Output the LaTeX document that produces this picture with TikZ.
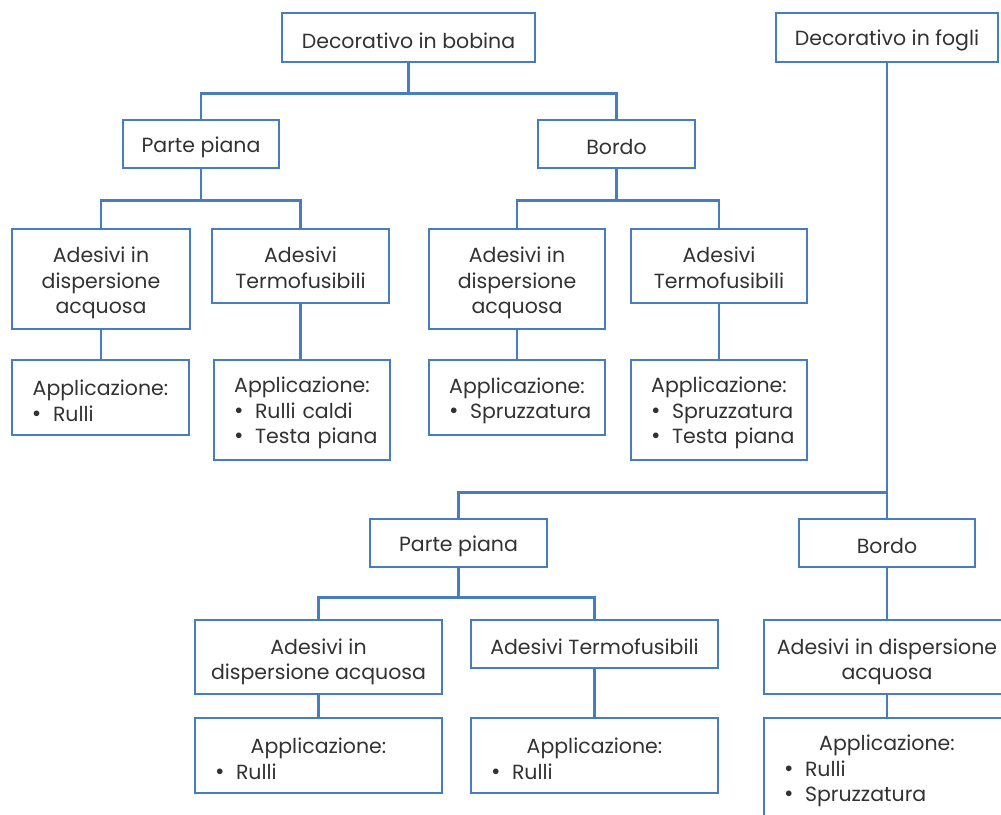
\documentclass[tikz,border=0pt]{standalone}
\usepackage{fontspec}
\setmainfont{Poppins}
\definecolor{ln}{RGB}{70,125,190}
\definecolor{tx}{RGB}{50,50,50}
\newcommand\apphead[1]{\makebox[#1][c]{Applicazione:}}
\newcommand\itm[1]{\hspace*{20pt}\makebox[21pt][l]{\fontsize{23}{25.5}\selectfont\textbullet}#1}
\newcommand\lift[1]{\vrule height #1pt depth 0pt width 0pt\relax}
\begin{document}
\begin{tikzpicture}[x=1pt,y=-1pt,
  mbox/.style={draw=ln, line width=2.9pt, rectangle, inner sep=0pt, align=center, text=tx, font=\fontsize{20.5}{25.5}\selectfont},
  box/.style={mbox, execute at begin node={\lift{22}}},
  appbox/.style={box, align=left},
  conn/.style={draw=ln, line width=2.9pt}]
\useasboundingbox (0,0) rectangle (1001,814);
\clip (0,0) rectangle (1001,814);
% top tree
\node[box, minimum width=253pt, minimum height=49pt] (top1) at (408.5,37.5) {Decorativo in bobina};
\node[box, minimum width=222pt, minimum height=49pt] (top2) at (887,37.5) {Decorativo in fogli};
\node[box, minimum width=156pt, minimum height=48pt] (pp1) at (201,144) {Parte piana};
\node[box, minimum width=157pt, minimum height=48pt] (bo1) at (616.5,144) {Bordo};
\node[mbox, minimum width=178pt, minimum height=100pt] (a1) at (101,279) {\lift{24}Adesivi in\\dispersione\\acquosa};
\node[mbox, minimum width=177pt, minimum height=74pt] (t1) at (300.5,266) {\lift{19}Adesivi\\Termofusibili};
\node[mbox, minimum width=176pt, minimum height=100pt] (a2) at (517,279) {\lift{24}Adesivi in\\dispersione\\acquosa};
\node[mbox, minimum width=176pt, minimum height=74pt] (t2) at (719,266) {\lift{19}Adesivi\\Termofusibili};
\node[appbox, minimum width=177pt, text width=177pt, minimum height=75pt] (ap1) at (100.5,397.5) {\apphead{177pt}\\\itm{Rulli}};
\node[appbox, minimum width=176pt, text width=176pt, minimum height=100pt] (ap2) at (302,410) {\apphead{176pt}\\\itm{Rulli caldi}\\\itm{Testa piana}};
\node[appbox, minimum width=176pt, text width=176pt, minimum height=75pt] (ap3) at (517,397.5) {\apphead{176pt}\\\itm{Spruzzatura}};
\node[appbox, minimum width=176pt, text width=176pt, minimum height=100pt] (ap4) at (719,410) {\apphead{176pt}\\\itm{Spruzzatura}\\\itm{Testa piana}};
% bottom tree
\node[box, minimum width=177pt, minimum height=48pt] (pp2) at (458.5,543) {Parte piana};
\node[box, minimum width=176pt, minimum height=48pt] (bo2) at (887,543) {Bordo};
\node[mbox, minimum width=247pt, minimum height=74pt] (a3) at (318.5,657) {\lift{25}Adesivi in\\dispersione acquosa};
\node[box, minimum width=247pt, minimum height=48pt] (t3) at (594.5,644) {Adesivi Termofusibili};
\node[appbox, minimum width=247pt, text width=247pt, minimum height=75pt] (ap5) at (318.5,755.5) {\apphead{247pt}\\\itm{Rulli}};
\node[appbox, minimum width=247pt, text width=247pt, minimum height=75pt] (ap6) at (594.5,755.5) {\apphead{247pt}\\\itm{Rulli}};
\node[mbox, minimum width=246pt, minimum height=74pt] (a4) at (887,657) {\lift{25}Adesivi in dispersione\\acquosa};
\node[appbox, minimum width=246pt, text width=246pt, minimum height=100pt] (ap7) at (887,768) {\apphead{246pt}\\\itm{Rulli}\\\itm{Spruzzatura}};
% connectors
\draw[conn] (top1.south) -- ++(0,30) -| (pp1.north);
\draw[conn] (top1.south) -- ++(0,30) -| (bo1.north);
\draw[conn] (pp1.south) -- ++(0,31) -| (a1.north);
\draw[conn] (pp1.south) -- ++(0,31) -| (t1.north);
\draw[conn] (bo1.south) -- ++(0,31) -| (a2.north);
\draw[conn] (bo1.south) -- ++(0,31) -| (t2.north);
\draw[conn] (a1.south) -- (a1.south |- ap1.north);
\draw[conn] (t1.south) -- (t1.south |- ap2.north);
\draw[conn] (a2.south) -- (a2.south |- ap3.north);
\draw[conn] (t2.south) -- (t2.south |- ap4.north);
\draw[conn] (top2.south) -- (bo2.north);
\draw[conn] (top2.south) -- ++(0,429) -| (pp2.north);
\draw[conn] (pp2.south) -- ++(0,29) -| (a3.north);
\draw[conn] (pp2.south) -- ++(0,29) -| (t3.north);
\draw[conn] (a3.south) -- (a3.south |- ap5.north);
\draw[conn] (t3.south) -- (t3.south |- ap6.north);
\draw[conn] (bo2.south) -- (a4.north);
\draw[conn] (a4.south) -- (ap7.north);
\end{tikzpicture}
\end{document}
